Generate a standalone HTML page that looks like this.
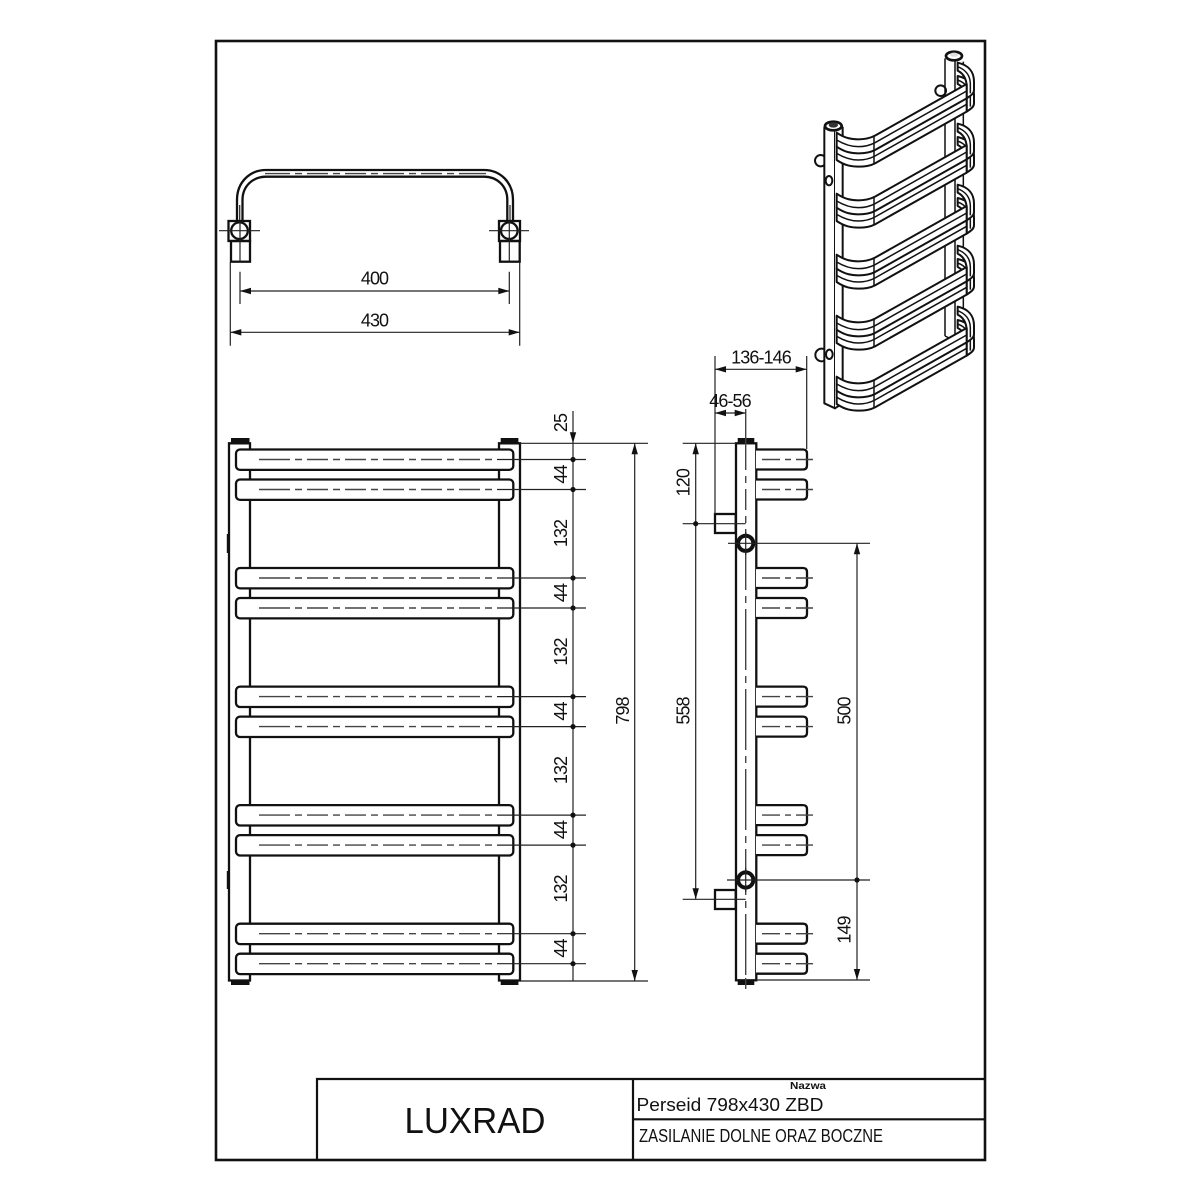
<!DOCTYPE html>
<html lang="pl"><head><meta charset="utf-8"><title>Perseid 798x430 ZBD</title>
<style>
html,body{margin:0;padding:0;background:#fff;width:1200px;height:1200px;overflow:hidden}
svg{display:block}
text{font-family:"Liberation Sans",sans-serif;fill:#111}
.d{font-size:18px;text-anchor:middle;letter-spacing:-.9px}
.o{fill:none;stroke:#111;stroke-width:2.3}
.w{fill:#fff;stroke:#111;stroke-width:2.3}
.t{fill:none;stroke:#222;stroke-width:1.2}
.g{fill:none;stroke:#444;stroke-width:1.4}
.k{fill:#111;stroke:none}
.z{fill:#fff;stroke:#111;stroke-width:6;stroke-linejoin:round}
.zl{fill:none;stroke:#111;stroke-width:4.5}
</style></head><body>
<svg width="1200" height="1200" viewBox="0 0 1200 1200" xmlns="http://www.w3.org/2000/svg">
<defs>
<polygon id="a" points="0,0 -11,-3.2 -11,3.2" fill="#111"/>
<circle id="dot" r="2.6" fill="#111"/>
<!-- front-view towel bar -->
<g id="fb">
<rect x="236" y="-10" width="277.3" height="20.4" rx="4" class="w"/>
<path d="M259,0 H290 M295,0 H302 M307,0 H328 M333,0 H340 M345,0 H366 M371,0 H378 M383,0 H404 M409,0 H416 M421,0 H442 M447,0 H454 M459,0 H480 M485,0 H492" class="g"/>
<path d="M497,0 H586" class="t"/>
</g>
<!-- side-view towel bar -->
<g id="sb">
<path d="M756,-10 H803 Q807,-10 807,-6 V6 Q807,10 803,10 H756" class="w"/>
<path d="M762,0 H780 M785,0 H791 M796,0 H813" class="g"/>
</g>
<!-- iso single bar -->
<g id="ib">
<path d="M443,68 C475,75 492,95 492,125 V150 C492,160 485,165 470,175 V135 C468,115 460,100 443,92 Z" class="z"/>
<path d="M443,80 C465,88 480,105 481,130 V160" class="zl"/>
<path d="M80,278 C105,295 125,298 145,298 C165,298 180,295 195,287 L470,132 V175 L195,330 C180,338 165,340 145,340 C125,340 105,337 80,320 Z" class="z"/>
<path d="M80,300 C105,315 125,320 145,320 C165,320 180,316 195,308 L470,153 M192,287 V330" class="zl"/>
</g>
<g id="iu"><use href="#ib" y="40"/><use href="#ib"/></g>
</defs>

<!-- frame -->
<rect x="216" y="41" width="769" height="1119" fill="none" stroke="#111" stroke-width="2.6"/>
<path d="M317,1160 V1079 H984 M633,1079 V1160 M633,1119.3 H984" fill="none" stroke="#111" stroke-width="2.2"/>
<text x="475" y="1133" font-size="36" text-anchor="middle" textLength="141" lengthAdjust="spacingAndGlyphs">LUXRAD</text>
<text x="790" y="1089" font-size="10.5" font-weight="700" textLength="36" lengthAdjust="spacingAndGlyphs">Nazwa</text>
<text x="636.5" y="1111" font-size="18" textLength="187" lengthAdjust="spacingAndGlyphs">Perseid 798x430 ZBD</text>
<text x="639" y="1142" font-size="18" textLength="244" lengthAdjust="spacingAndGlyphs">ZASILANIE DOLNE ORAZ BOCZNE</text>

<!-- top view -->
<path d="M237,221 V200 C237,182 250,170 266,170 H484 C500,170 513,182 513,200 V221 M242.5,221 V200 C242.5,186 253,176.7 266,176.7 H484 C497,176.7 507.300,186 507.300,200 V221" class="o"/>
<path d="M239.700,205 V222 M510,205 V222" class="t"/>
<path d="M265,173.600 H290 M295,173.600 H302 M307,173.600 H328 M333,173.600 H340 M345,173.600 H366 M371,173.600 H378 M383,173.600 H404 M409,173.600 H416 M421,173.600 H442 M447,173.600 H454 M459,173.600 H486" class="g"/>
<rect x="228.500" y="221" width="21.500" height="20" class="o"/>
<rect x="231" y="241" width="19" height="20.700" class="o"/>
<circle cx="239.500" cy="230.700" r="8.300" class="o"/>
<rect x="499" y="221" width="21" height="20" class="o"/>
<rect x="500" y="241" width="19.700" height="20.700" class="o"/>
<circle cx="509.300" cy="230.700" r="8.300" class="o"/>
<path d="M219,230.700 H260 M489,230.700 H529 M240,221 V261.700 M509.300,221 V261.700" class="t"/>
<path d="M240,271.700 V304 M509.300,271.700 V304 M240,291 H509.300 M230.300,262 V345.700 M519.700,262 V345.700 M230.300,332.300 H519.700" class="t"/>
<use href="#a" transform="translate(240,291) rotate(180)"/><use href="#a" transform="translate(509.300,291)"/>
<use href="#a" transform="translate(230.300,332.300) rotate(180)"/><use href="#a" transform="translate(519.700,332.300)"/>
<text class="d" x="374.500" y="284.500">400</text>
<text class="d" x="374.500" y="326.500">430</text>

<!-- front view -->
<rect x="231" y="438" width="18.500" height="5" class="k"/><rect x="500.700" y="438" width="17.700" height="5" class="k"/>
<rect x="231" y="980" width="18.500" height="5" class="k"/><rect x="500.700" y="980" width="17.700" height="5" class="k"/>
<path d="M229,980.500 V443.300 H250 V980.500 Z M499,980.500 V443.300 H520 V980.500 Z" class="o"/>
<rect x="226.800" y="534" width="2.600" height="19" class="k"/><rect x="226.800" y="871" width="2.600" height="18" class="k"/>
<use href="#fb" y="459.500"/><use href="#fb" y="489.500"/>
<use href="#fb" y="578"/><use href="#fb" y="608"/>
<use href="#fb" y="696.600"/><use href="#fb" y="726.600"/>
<use href="#fb" y="815.100"/><use href="#fb" y="845.100"/>
<use href="#fb" y="933.700"/><use href="#fb" y="963.700"/>
<path d="M520,443.300 H648 M520,981 H648 M573,411 V981 M634.700,443.300 V981" class="t"/>
<use href="#a" transform="translate(573,443.300) rotate(90)"/>
<use href="#a" transform="translate(634.700,443.300) rotate(-90)"/>
<use href="#a" transform="translate(634.700,981) rotate(90)"/>
<use href="#dot" x="573" y="459.500"/><use href="#dot" x="573" y="489.500"/><use href="#dot" x="573" y="578"/><use href="#dot" x="573" y="608"/><use href="#dot" x="573" y="696.600"/><use href="#dot" x="573" y="726.600"/><use href="#dot" x="573" y="815.100"/><use href="#dot" x="573" y="845.100"/><use href="#dot" x="573" y="933.700"/><use href="#dot" x="573" y="963.700"/>
<text class="d" transform="translate(567,423) rotate(-90)">25</text>
<text class="d" transform="translate(567,474.500) rotate(-90)">44</text>
<text class="d" transform="translate(567,533.500) rotate(-90)">132</text>
<text class="d" transform="translate(567,593) rotate(-90)">44</text>
<text class="d" transform="translate(567,652) rotate(-90)">132</text>
<text class="d" transform="translate(567,711.500) rotate(-90)">44</text>
<text class="d" transform="translate(567,770.500) rotate(-90)">132</text>
<text class="d" transform="translate(567,830) rotate(-90)">44</text>
<text class="d" transform="translate(567,889) rotate(-90)">132</text>
<text class="d" transform="translate(567,948.500) rotate(-90)">44</text>
<text class="d" transform="translate(629,711) rotate(-90)">798</text>

<!-- side view -->
<rect x="737.700" y="438" width="16.600" height="5.300" class="k"/>
<rect x="737.700" y="980" width="16.600" height="5" class="k"/>
<rect x="736" y="443.300" width="20.300" height="537" class="w"/>
<rect x="715" y="514" width="20.700" height="19" class="w"/>
<rect x="715" y="890" width="20.700" height="19" class="w"/>
<use href="#sb" y="459.500"/><use href="#sb" y="489.500"/>
<use href="#sb" y="578"/><use href="#sb" y="608"/>
<use href="#sb" y="696.600"/><use href="#sb" y="726.600"/>
<use href="#sb" y="815.100"/><use href="#sb" y="845.100"/>
<use href="#sb" y="933.700"/><use href="#sb" y="963.700"/>
<path d="M745.700,409 V470 M745.700,476 V483 M745.700,489 V510 M745.700,516 V523 M745.700,529 V590 M745.700,596 V603 M745.700,609 V670 M745.700,676 V683 M745.700,689 V750 M745.700,756 V763 M745.700,769 V830 M745.700,836 V843 M745.700,849 V895 M745.700,901 V908 M745.700,914 V975 M745.700,978 V989" class="g"/>
<circle cx="745.700" cy="543.300" r="7.600" fill="#fff" stroke="#111" stroke-width="4"/>
<circle cx="745.700" cy="880" r="7.600" fill="#fff" stroke="#111" stroke-width="4"/>
<path d="M728,543.300 H870 M727,880 H870 M745.700,532 V555 M745.700,868 V892 M756,980 H870 M682.700,443.300 H736 M682.700,523.700 H745.700 M682.700,899.300 H745.700 M695.700,443.300 V899.300 M857,543.300 V980 M715,356 V514 M806.700,356 V449 M715,369.300 H806.700 M715,413 H745.700" class="t"/>
<use href="#a" transform="translate(715,369.300) rotate(180)"/><use href="#a" transform="translate(806.700,369.300)"/>
<use href="#a" transform="translate(715,413) rotate(180)"/><use href="#a" transform="translate(745.700,413)"/>
<use href="#a" transform="translate(695.700,443.300) rotate(-90)"/><use href="#a" transform="translate(695.700,899.300) rotate(90)"/>
<use href="#a" transform="translate(857,543.300) rotate(-90)"/><use href="#a" transform="translate(857,980) rotate(90)"/>
<use href="#dot" x="695.700" y="523.700"/><use href="#dot" x="857" y="880"/>
<text class="d" x="761" y="363.500">136-146</text>
<text class="d" x="730" y="407">46-56</text>
<text class="d" transform="translate(689.500,482.700) rotate(-90)">120</text>
<text class="d" transform="translate(689.500,711) rotate(-90)">558</text>
<text class="d" transform="translate(850.500,711) rotate(-90)">500</text>
<text class="d" transform="translate(850.500,930) rotate(-90)">149</text>

<!-- isometric view -->
<g transform="translate(810,40) scale(.33333)">
<circle cx="392" cy="152" r="16" class="z"/>
<path d="M405,888 V55 M435,900 V60 M460,880 V65 M405,888 L430,900" class="zl"/>
<ellipse cx="432" cy="48" rx="24" ry="13" fill="#fff" stroke="#111" stroke-width="8"/>
<ellipse cx="432" cy="44" rx="12" ry="6" fill="#ddd"/>
<circle cx="32" cy="362" r="17" class="z"/>
<circle cx="35" cy="945" r="19" class="z"/>
<path d="M43,1090 V262 L75,268 V1105 L43,1090 Z" class="z"/>
<path d="M75,268 L98,262 V1090 L75,1105" class="z"/>
<ellipse cx="57" cy="422" rx="10" ry="14" fill="#fff" stroke="#111" stroke-width="6"/>
<ellipse cx="58" cy="943" rx="10" ry="14" fill="#fff" stroke="#111" stroke-width="6"/>
<ellipse cx="70" cy="258" rx="25" ry="13" fill="#fff" stroke="#111" stroke-width="8"/>
<ellipse cx="70" cy="255" rx="14" ry="8" fill="#333"/>
<use href="#iu" y="732"/>
<use href="#iu" y="549"/>
<use href="#iu" y="366"/>
<use href="#iu" y="183"/>
<use href="#iu"/>
</g>
</svg>
</body></html>
